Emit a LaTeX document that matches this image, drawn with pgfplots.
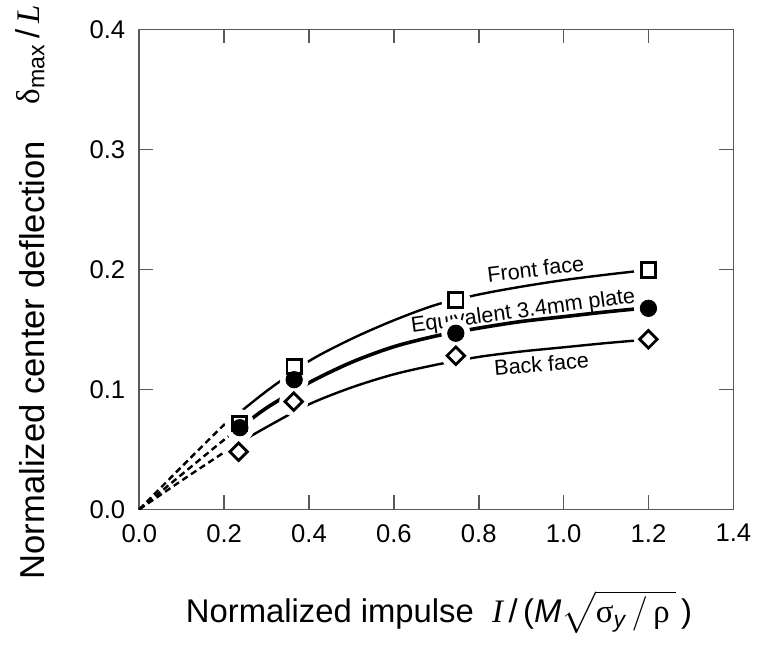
\documentclass[border=0pt]{standalone}
\usepackage{pgfplots}
\pgfplotsset{compat=1.18}
\usepackage{amsmath}
\usepackage{fontspec}
\setmainfont{Liberation Sans}
\newfontfamily\serif{Liberation Serif}
\begin{document}
\begin{tikzpicture}
\begin{axis}[
  scale only axis, width=297pt, height=240pt,
  xmin=0, xmax=1.4, ymin=0, ymax=0.4,
  xtick={0,0.2,0.4,0.6,0.8,1.0,1.2,1.4},
  ytick={0,0.1,0.2,0.3,0.4},
  tick align=inside, tick pos=both, major tick length=7pt,
  axis line style={black!65, line width=0.8pt},
  every tick/.style={black!65, line width=0.8pt},
  /pgf/number format/fixed, /pgf/number format/fixed zerofill,
  /pgf/number format/precision=1, /pgf/number format/assume math mode=true,
  tick label style={font=\fontsize{12.8}{15}\selectfont, black},
  xticklabel style={yshift=-4pt},
  yticklabel style={xshift=-3.5pt},
  clip=false,
]
% curves: dashed initial parts
\addplot[black, line width=1.2pt, dash pattern=on 3.2pt off 2pt, smooth] coordinates {(0,0) (0.1,0.0355) (0.2,0.0705) (0.236,0.0805)};
\addplot[black, line width=1.2pt, dash pattern=on 3.2pt off 2pt, smooth] coordinates {(0,0) (0.1,0.029) (0.2,0.058) (0.236,0.0675)};
\addplot[black, line width=1.2pt, dash pattern=on 3.2pt off 2pt, smooth] coordinates {(0,0) (0.1,0.024) (0.2,0.0475) (0.236,0.0555)};
% solid parts
\addplot[black, line width=1.2pt, smooth] coordinates {(0.236,0.0805) (0.3,0.0985) (0.4,0.1235) (0.5,0.142) (0.6,0.1575) (0.7,0.1705) (0.8,0.179) (0.9,0.1855) (1.0,0.191) (1.1,0.1955) (1.2,0.1995)};
\addplot[black, line width=1.8pt, smooth] coordinates {(0.236,0.0675) (0.3,0.0845) (0.4,0.1055) (0.5,0.1225) (0.6,0.1355) (0.7,0.1445) (0.8,0.151) (0.9,0.1565) (1.0,0.1605) (1.1,0.1645) (1.2,0.168)};
\addplot[black, line width=1.2pt, smooth] coordinates {(0.236,0.0555) (0.3,0.0685) (0.4,0.0875) (0.5,0.1015) (0.6,0.1125) (0.7,0.1205) (0.8,0.127) (0.9,0.1315) (1.0,0.135) (1.1,0.1385) (1.2,0.1415)};
% white halos around markers
\addplot[only marks, mark=*, mark size=7pt, mark options={draw=white, fill=white}] coordinates {(0.236,0.0715) (0.365,0.119) (0.746,0.1745) (1.2,0.1995)};
\addplot[only marks, mark=*, mark size=7pt, mark options={draw=white, fill=white}] coordinates {(0.237,0.068) (0.365,0.108) (0.746,0.1467) (1.2,0.1675)};
\addplot[only marks, mark=*, mark size=7pt, mark options={draw=white, fill=white}] coordinates {(0.234,0.048) (0.364,0.0897) (0.746,0.128) (1.2,0.1417)};
% markers
\addplot[only marks, mark=square*, mark size=3.6pt, mark options={draw=black, fill=white, line width=1.4pt}] coordinates {(0.236,0.0715) (0.365,0.119) (0.746,0.1745) (1.2,0.1995)};
\addplot[only marks, mark=*, mark size=4.1pt, mark options={draw=black, fill=black}] coordinates {(0.237,0.068) (0.365,0.108) (0.746,0.1467) (1.2,0.1675)};
\addplot[only marks, mark=square*, mark size=3.1pt, mark options={draw=black, fill=white, line width=1.4pt, rotate=45}] coordinates {(0.234,0.048) (0.364,0.0897) (0.746,0.128) (1.2,0.1417)};
% curve labels
\node[rotate=7, font=\fontsize{10.8}{12}\selectfont] at (axis cs:0.934,0.2003) {Front face};
\node[rotate=7.7, font=\fontsize{10.8}{12}\selectfont] at (axis cs:0.905,0.1644) {Equivalent 3.4mm plate};
\node[rotate=4.7, font=\fontsize{10.8}{12}\selectfont] at (axis cs:0.948,0.1212) {Back face};
% axis labels
\node[rotate=90, anchor=center, font=\fontsize{17.3}{20}\selectfont] at (axis description cs:-0.181,0.311) {Normalized center deflection};
\node[rotate=90, anchor=center, font=\fontsize{16.5}{19}\selectfont] at (axis description cs:-0.184,0.9465) {{\serif δ}\textsubscript{max}\,/\,{\serif\itshape L}};
\node[anchor=base, font=\fontsize{16.4}{19}\selectfont] at (axis description cs:0.5045,-0.2348) {Normalized impulse\ \ {\serif\itshape I}\,/\,({\itshape M}$\sqrt{\text{\serif σ}_{\textit{y}}\,/\,\text{\serif ρ}\,}$\,)};
\end{axis}
\pgfresetboundingbox
\path ([shift={(-69.65pt,-71.35pt)}]current axis.south west) rectangle ([shift={(11.85pt,14.65pt)}]current axis.north east);
\end{tikzpicture}
\end{document}
